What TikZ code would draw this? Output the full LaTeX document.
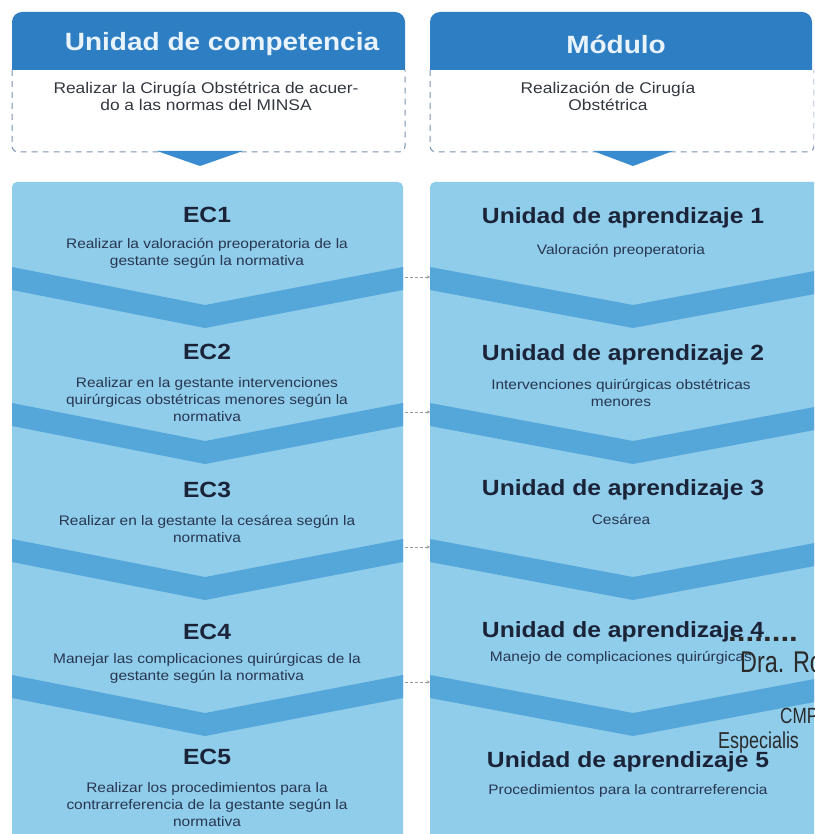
\documentclass[tikz,border=0pt]{standalone}
\usepackage{fontspec}
\setmainfont{Liberation Sans}[FakeStretch=1.12]
\newfontfamily\stampfont{Liberation Sans}[FakeStretch=0.78]
\usetikzlibrary{arrows.meta}
\definecolor{hdr}{HTML}{2D7EC3}
\definecolor{hdrtext}{HTML}{E8F3FB}
\definecolor{bodyc}{HTML}{8FCDEB}
\definecolor{bandc}{HTML}{55A7DA}
\definecolor{tric}{HTML}{3A8CD0}
\definecolor{dashc}{HTML}{7893B3}
\definecolor{titc}{HTML}{1B2338}
\definecolor{descc}{HTML}{283650}
\definecolor{wtc}{HTML}{333840}
\definecolor{stampc}{HTML}{2A2A2A}
\tikzset{
  hdrtxt/.style={text=hdrtext, font=\fontsize{25}{28}\selectfont\bfseries, inner sep=0pt},
  wtxt/.style={text=wtc, align=center, font=\fontsize{15.5}{17}\selectfont, inner sep=0pt},
  titletxt/.style={text=titc, font=\fontsize{22}{26}\selectfont\bfseries, inner sep=0pt},
  desctxt/.style={text=descc, align=center, font=\fontsize{13.8}{17}\selectfont, inner sep=0pt},
  stamptxt/.style={text=stampc, inner sep=0pt, anchor=west},
  conn/.style={draw=gray!80, dashed, dash pattern=on 3pt off 2pt, line width=0.6pt, -{Stealth[length=3pt,width=3pt]}},
  dashbox/.style={draw=dashc, line width=1pt, dash pattern=on 6pt off 5pt},
}
\begin{document}
\begin{tikzpicture}[x=1pt,y=-1pt]
\useasboundingbox (0,0) rectangle (814,834);
\clip (0,0) rectangle (814,834);
\fill[white] (0,0) rectangle (814,834);

% bodies
\fill[bodyc, rounded corners=5pt] (12,182) rectangle (403,860);
\fill[bodyc, rounded corners=5pt] (430,182) rectangle (850,860);

% chevron bands
\foreach \n in {0,1,2,3}{
  \pgfmathsetmacro{\ya}{267+136*\n}
  \fill[bandc] (12,\ya) -- (205,\ya+38) -- (403,\ya) -- (403,\ya+23) -- (205,\ya+61) -- (12,\ya+23) -- cycle;
  \fill[bandc] (430,\ya) -- (633,\ya+38) -- (836,\ya) -- (836,\ya+23) -- (633,\ya+61) -- (430,\ya+23) -- cycle;
}

% headers
\fill[hdr] (12,70) [rounded corners=10pt]-- (12,12) -- (405,12) [sharp corners]-- (405,70) -- cycle;
\fill[hdr] (430,70) [rounded corners=10pt]-- (430,12) -- (812,12) [sharp corners]-- (812,70) -- cycle;

% dashed boxes
\draw[dashbox] (12,70) [rounded corners=6pt]-- (12,152) -- (405,152) [sharp corners]-- (405,70);
\draw[dashbox] (430,70) [rounded corners=6pt]-- (430,152) -- (814,152) [sharp corners]-- (814,70);

% triangles
\fill[tric] (157,151) -- (243,151) -- (200,166) -- cycle;
\fill[tric] (593,151) -- (673,151) -- (633,166) -- cycle;

% header texts
\node[hdrtxt] (hc) at (222,44) {Unidad de competencia};
\node[hdrtxt] (hm) at (616,44) {Módulo};

\node[wtxt] (uc) at (206,96) {Realizar la Cirugía Obstétrica de acuer-\\do a las normas del MINSA};
\node[wtxt] (mod) at (608,96) {Realización de Cirugía\\Obstétrica};

% left column
\node[titletxt] (ec1) at (207,215) {EC1};
\node[desctxt] (ec1d) at (207,253.5) {Realizar la valoración preoperatoria de la\\gestante según la normativa};
\node[titletxt] (ec2) at (207,352) {EC2};
\node[desctxt] (ec2d) at (207,400) {Realizar en la gestante intervenciones\\quirúrgicas obstétricas menores según la\\normativa};
\node[titletxt] (ec3) at (207,490) {EC3};
\node[desctxt] (ec3d) at (207,529) {Realizar en la gestante la cesárea según la\\normativa};
\node[titletxt] (ec4) at (207,632) {EC4};
\node[desctxt] (ec4d) at (207,668.5) {Manejar las complicaciones quirúrgicas de la\\gestante según la normativa};
\node[titletxt] (ec5) at (207,757) {EC5};
\node[desctxt] (ec5d) at (207,805) {Realizar los procedimientos para la\\contrarreferencia de la gestante según la\\normativa};

% right column
\node[titletxt] (ua1) at (623,218) {Unidad de aprendizaje 1};
\node[desctxt] (ua1d) at (621,251) {Valoración preoperatoria};
\node[titletxt] (ua2) at (623,355) {Unidad de aprendizaje 2};
\node[desctxt] (ua2d) at (621,392.5) {Intervenciones quirúrgicas obstétricas\\menores};
\node[titletxt] (ua3) at (623,490) {Unidad de aprendizaje 3};
\node[desctxt] (ua3d) at (621,519) {Cesárea};
\node[titletxt] (ua4) at (623,632) {Unidad de aprendizaje 4};
\node[desctxt] (ua4d) at (621,658) {Manejo de complicaciones quirúrgicas};
\node[titletxt] (ua5) at (628,762) {Unidad de aprendizaje 5};
\node[desctxt] (ua5d) at (628,791) {Procedimientos para la contrarreferencia};

% connectors
\foreach \n in {1,2,3,4}{
  \pgfmathsetmacro{\yc}{277+135*(\n-1)}
  \coordinate (cl\n) at (405,\yc);
  \coordinate (cr\n) at (430,\yc);
  \draw[conn] (cl\n) -- (cr\n);
}

% stamp overlay
\node[stamptxt, anchor=base west, font=\fontsize{28}{28}\selectfont\bfseries] (st0) at (728,641) {........};
\node[stamptxt, font=\stampfont\fontsize{30}{30}\selectfont] (st1) at (740,662) {Dra. Ro};
\node[stamptxt, font=\stampfont\fontsize{22}{22}\selectfont] (st2) at (780,716) {CMP};
\node[stamptxt, font=\stampfont\fontsize{23}{23}\selectfont] (st3) at (718,743) {Especialis};
\end{tikzpicture}
\end{document}
